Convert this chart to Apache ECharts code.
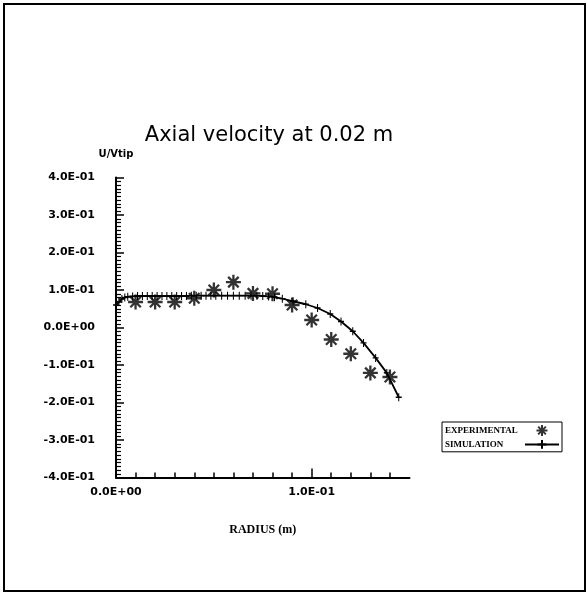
<!DOCTYPE html>
<html>
<head>
<meta charset="utf-8">
<script src="https://cdn.jsdelivr.net/npm/echarts@6/dist/echarts.min.js"></script>
<style>
html,body{margin:0;padding:0;background:#fff;}
#chart{width:587px;height:594px;}
</style>
</head>
<body>
<div id="chart"></div>
<script>
// ---- data ----
const titleText = 'Axial velocity at 0.02 m';
const yAxisName = 'U/Vtip';
const xAxisName = 'RADIUS (m)';
const seriesNames = ['EXPERIMENTAL', 'SIMULATION'];

const xTickValues = [0, 0.1];
const xTickLabels = ['0.0E+00', '1.0E-01'];
const yTickValues = [-0.4, -0.3, -0.2, -0.1, 0, 0.1, 0.2, 0.3, 0.4];
const yTickLabels = ['-4.0E-01', '-3.0E-01', '-2.0E-01', '-1.0E-01', '0.0E+00', '1.0E-01', '2.0E-01', '3.0E-01', '4.0E-01'];

const expRadius = [0.01, 0.02, 0.03, 0.04, 0.05, 0.06, 0.07, 0.08, 0.09, 0.10, 0.11, 0.12, 0.13, 0.14];
const expVelocity = [0.068, 0.068, 0.068, 0.078, 0.100, 0.121, 0.091, 0.090, 0.060, 0.020, -0.032, -0.070, -0.121, -0.132];

const simRadius = [0.0, 0.0015, 0.003, 0.0045, 0.006, 0.0085, 0.011, 0.0135, 0.016, 0.0185, 0.021, 0.0235,
  0.026, 0.0285, 0.031, 0.0335, 0.036, 0.0385, 0.041, 0.0435, 0.046, 0.0485, 0.051, 0.054, 0.057, 0.060,
  0.063, 0.066, 0.069, 0.072, 0.075, 0.078, 0.081, 0.085, 0.0905, 0.097, 0.103, 0.1095, 0.115, 0.121,
  0.1265, 0.1327, 0.1384, 0.1445];
const simVelocity = [0.060, 0.068, 0.076, 0.080, 0.082, 0.083, 0.084, 0.084, 0.084, 0.084, 0.084, 0.084,
  0.084, 0.084, 0.084, 0.084, 0.084, 0.085, 0.085, 0.085, 0.085, 0.085, 0.085, 0.085, 0.085, 0.085,
  0.085, 0.085, 0.085, 0.085, 0.084, 0.083, 0.081, 0.077, 0.070, 0.062, 0.052, 0.036, 0.016, -0.010,
  -0.041, -0.081, -0.121, -0.186];

// ---- chart ----
function lookup(values, labels, v) {
  for (let i = 0; i < values.length; i++) {
    if (Math.abs(values[i] - v) < 1e-9) return labels[i];
  }
  return '';
}
const expData = expRadius.map((x, i) => [x, expVelocity[i]]);
const simData = simRadius.map((x, i) => [x, simVelocity[i]]);

const starPath = 'path://M10,0 L10,20 M0,10 L20,10 M3,3 L17,17 M3,17 L17,3';
const plusPath = 'path://M5,0 L5,10 M0,5 L10,5';

const chart = echarts.init(document.getElementById('chart'), null, {renderer: 'canvas'});
const gridLeft = 116, gridTop = 177.5, gridW = 293.5, gridH = 300;

chart.setOption({
  animation: false,
  backgroundColor: '#fff',
  textStyle: {fontFamily: 'DejaVu Sans', color: '#000'},
  graphic: [{
    type: 'rect',
    shape: {x: 4, y: 4, width: 581, height: 587},
    style: {fill: 'none', stroke: '#000', lineWidth: 2},
    silent: true
  }],
  title: {
    text: titleText,
    left: 264, top: 120,
    textAlign: 'center',
    textStyle: {fontFamily: 'DejaVu Sans', fontSize: 21, fontWeight: 'normal', color: '#000'}
  },
  legend: {
    orient: 'vertical',
    left: 442, top: 422,
    align: 'right',
    itemWidth: 34, itemHeight: 11, itemGap: 2,
    padding: [2, 2, 2, 3],
    borderColor: '#000', borderWidth: 1,
    backgroundColor: '#fff',
    data: seriesNames,
    formatter: '{a|{name}}',
    textStyle: {
      color: '#000',
      rich: {a: {width: 75, align: 'left', fontFamily: 'Liberation Serif', fontSize: 9, fontWeight: 'bold', color: '#000'}}
    }
  },
  grid: {left: gridLeft, top: gridTop, width: gridW, height: gridH, containLabel: false},
  xAxis: [{
    type: 'value', min: 0, max: 0.15, interval: 0.01,
    name: xAxisName, nameLocation: 'middle', nameGap: 46,
    nameTextStyle: {fontFamily: 'Liberation Serif', fontWeight: 'bold', fontSize: 12, color: '#000'},
    axisLine: {show: true, onZero: false, lineStyle: {color: '#000', width: 2}},
    axisTick: {show: true, inside: true, length: 5, lineStyle: {color: '#000', width: 1.5}},
    axisLabel: {
      show: true, margin: 9, color: '#000', fontFamily: 'DejaVu Sans', fontWeight: 'bold', fontSize: 11,
      showMaxLabel: false,
      formatter: v => lookup(xTickValues, xTickLabels, v)
    },
    splitLine: {show: false}
  }, {
    type: 'value', min: 0, max: 0.15, interval: 0.1, position: 'bottom', offset: 0,
    axisLine: {show: false, onZero: false},
    axisTick: {show: true, inside: true, length: 9, customValues: xTickValues, lineStyle: {color: '#000', width: 1.5}},
    axisLabel: {show: false},
    splitLine: {show: false}
  }],
  yAxis: {
    type: 'value', min: -0.4, max: 0.4, interval: 0.1,
    name: yAxisName, nameLocation: 'end', nameGap: 18,
    nameTextStyle: {fontFamily: 'DejaVu Sans', fontWeight: 'bold', fontSize: 10, color: '#000', align: 'center'},
    axisLine: {show: true, onZero: false, lineStyle: {color: '#000', width: 2}},
    axisTick: {show: true, inside: true, length: 8, lineStyle: {color: '#000', width: 1.5}},
    minorTick: {show: true, splitNumber: 10, length: 5, lineStyle: {color: '#000', width: 1.2}},
    axisLabel: {
      show: true, margin: 21, color: '#000', fontFamily: 'DejaVu Sans', fontWeight: 'bold', fontSize: 11,
      formatter: v => lookup(yTickValues, yTickLabels, v)
    },
    splitLine: {show: false},
    minorSplitLine: {show: false}
  },
  series: [{
    name: seriesNames[0],
    type: 'scatter',
    xAxisIndex: 0,
    data: expData,
    symbol: starPath,
    symbolSize: 15,
    itemStyle: {color: '#000', borderColor: '#000', borderWidth: 2.3},
    z: 3
  }, {
    name: seriesNames[1],
    type: 'line',
    xAxisIndex: 0,
    data: simData,
    smooth: false,
    symbol: plusPath,
    symbolSize: [6, 8],
    showSymbol: true,
    lineStyle: {color: '#000', width: 1.8},
    itemStyle: {color: '#000', borderColor: '#000', borderWidth: 1.2},
    z: 2
  }]
});
</script>
</body>
</html>
